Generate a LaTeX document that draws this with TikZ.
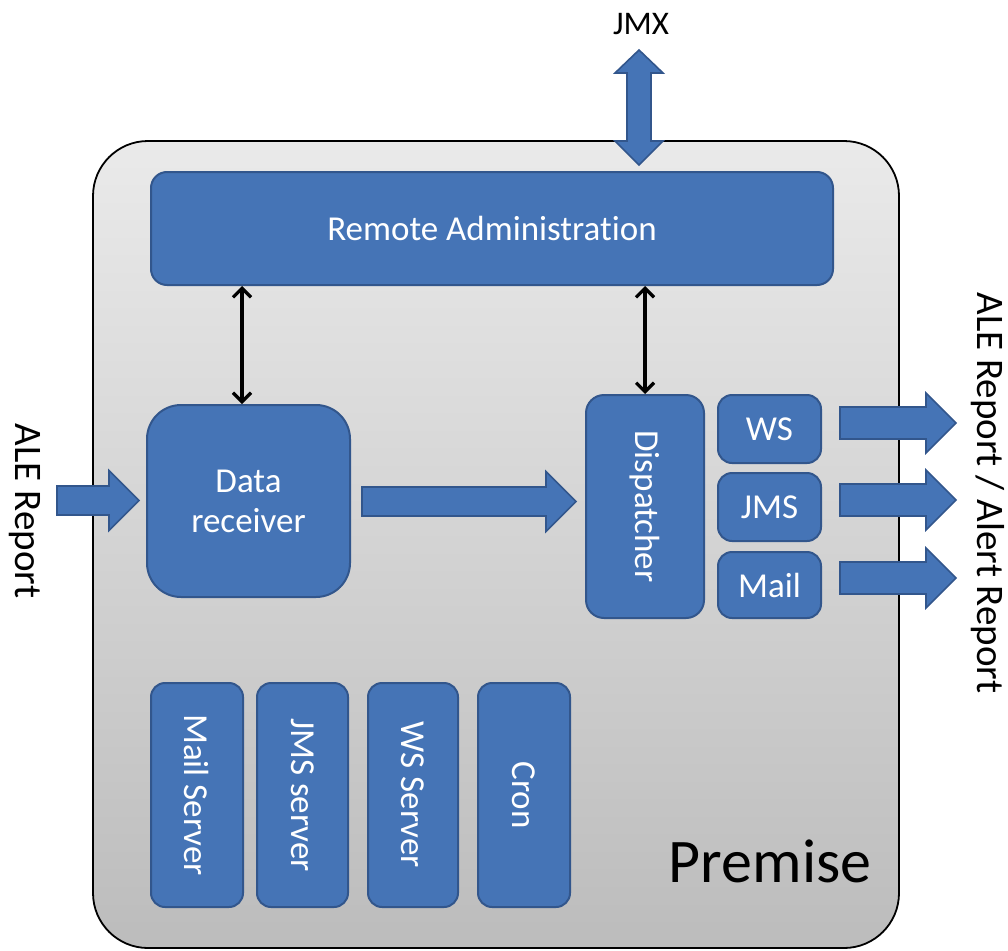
\documentclass[tikz,border=0pt]{standalone}
\usepackage{fontspec}
\setmainfont{Carlito}[Ligatures=NoCommon]
\usetikzlibrary{arrows.meta,calc}

\definecolor{boxblue}{RGB}{69,116,182}
\definecolor{boxedge}{RGB}{50,86,140}
\definecolor{panetop}{RGB}{234,234,234}
\definecolor{panebot}{RGB}{188,188,188}

\newcommand\blkfont{\fontsize{35}{40}\selectfont}
\newcommand\sidefont{\fontsize{39}{44}\selectfont}

\tikzset{
  pane/.style={draw=black, line width=1.8pt, rounded corners=55pt,
    top color=panetop, bottom color=panebot, inner sep=0pt},
  block/.style={draw=boxedge, line width=2pt, fill=boxblue, text=white,
    font=\blkfont, inner sep=0pt, align=center, rounded corners=14pt},
  blockarrow/.style={draw=boxedge, line width=1.6pt, fill=boxblue, line join=miter},
  link/.style={draw=black, line width=3.2pt,
    {Straight Barb[length=9pt,width=18pt]}-{Straight Barb[length=9pt,width=18pt]}},
  sidetext/.style={font=\sidefont, inner sep=0pt}
}

\begin{document}
\begin{tikzpicture}[x=1pt,y=-1pt]
\useasboundingbox (0,0) rectangle (1008,950);

% outer premise container
\node[pane, minimum width=806pt, minimum height=807pt] (premise) at (496,544.5) {};
\node[font=\fontsize{62}{70}\selectfont, anchor=base] (premlabel) at (770,882) {Premise};

% components
\node[block, minimum width=682pt, minimum height=113pt, rounded corners=16pt]
  (admin) at (492,228.5) {Remote Administration};
\node[block, minimum width=203pt, minimum height=192pt, rounded corners=34pt]
  (recv) at (248.5,501) {Data\\receiver};
\node[block, minimum width=118pt, minimum height=223pt, rounded corners=18pt]
  (disp) at (645,506.5) {\rotatebox{-90}{Dispatcher}};
\node[block, minimum width=103pt, minimum height=68pt] (ws)   at (769.5,429) {WS};
\node[block, minimum width=103pt, minimum height=68pt] (jms)  at (769.5,507) {JMS};
\node[block, minimum width=103pt, minimum height=66pt] (mail) at (769.5,585) {Mail};

% servers
\node[block, minimum width=92pt, minimum height=224pt] (mailsrv) at (197,795)   {\rotatebox{-90}{Mail Server}};
\node[block, minimum width=91pt, minimum height=224pt] (jmssrv)  at (302.5,795) {\rotatebox{-90}{JMS server}};
\node[block, minimum width=90pt, minimum height=224pt] (wssrv)   at (413,795)   {\rotatebox{-90}{WS Server}};
\node[block, minimum width=92pt, minimum height=224pt] (cron)    at (524,795)   {\rotatebox{-90}{Cron}};

% administration links
\coordinate (l1) at ($(recv.north)+(-6.5,0)$);
\draw[link] (l1) -- (l1 |- admin.south);
\draw[link] (disp.north) -- (disp.north |- admin.south);

% JMX double block arrow
\coordinate (jmxtop) at (639,50);
\coordinate (jmxbot) at (639,165);
\draw[blockarrow] (jmxtop) -- ++(24,23) -- ++(-12,0) -- ++(0,68) -- ++(12,0) -- (jmxbot)
  -- ++(-24,-24) -- ++(12,0) -- ++(0,-68) -- ++(-12,0) -- cycle;
\node[font=\fontsize{33}{38}\selectfont, anchor=base] (jmxlabel) at (641,35) {JMX};

% incoming report
\draw[blockarrow] ($(recv.west)+(-7,-0.5)$) -- ++(-30,-30) -- ++(0,15.5) -- ++(-52,0)
  -- ++(0,29) -- ++(52,0) -- ++(0,15.5) -- cycle;
\node[sidetext] (inlabel) at (25,511) {\rotatebox{-90}{ALE Report}};

% receiver to dispatcher
\draw[blockarrow] ($(disp.west)+(-9,-5)$) -- ++(-30,-30) -- ++(0,15.5) -- ++(-184,0)
  -- ++(0,29) -- ++(184,0) -- ++(0,15.5) -- cycle;

% outgoing channels
\foreach \ch/\dy in {ws/-6, jms/-7, mail/-7}{
  \draw[blockarrow] ($(\ch.east)+(134,\dy)$) -- ++(-30,-30) -- ++(0,14) -- ++(-86,0)
    -- ++(0,32) -- ++(86,0) -- ++(0,14) -- cycle;
}
\node[sidetext] (outlabel) at (988,493) {\rotatebox{-90}{ALE Report / Alert Report}};
\end{tikzpicture}
\end{document}
